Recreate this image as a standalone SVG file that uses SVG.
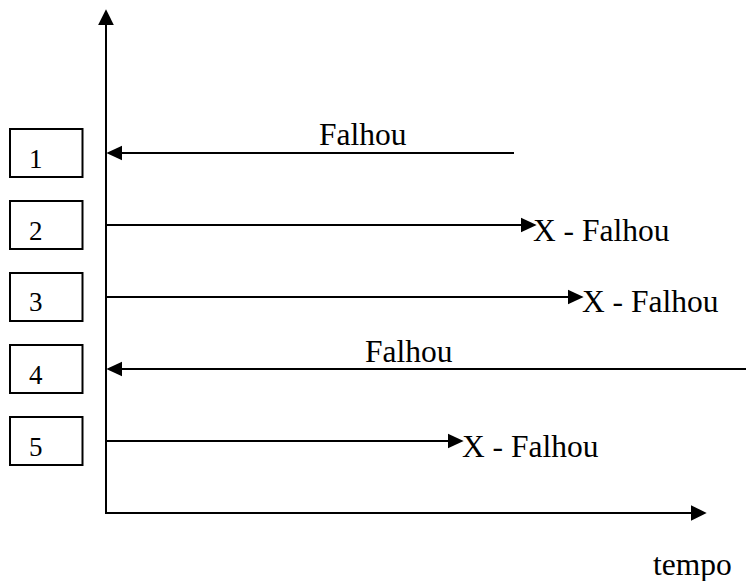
<svg xmlns="http://www.w3.org/2000/svg" width="746" height="581" viewBox="0 0 746 581">
<style>
.box{fill:#fff;stroke:#000;stroke-width:2}
.ln{stroke:#000;stroke-width:2;fill:none}
.num{font-family:"Liberation Serif","Times New Roman",serif;font-size:27px;fill:#000}
.lbl{font-family:"Liberation Serif","Times New Roman",serif;font-size:31.5px;fill:#000}
</style>
<defs>
<marker id="ah" markerUnits="userSpaceOnUse" markerWidth="16" markerHeight="16" viewBox="0 0 15 14" refX="5" refY="7" orient="auto">
<path d="M0,0 L15,7 L0,14 z" fill="#000"/>
</marker>
<marker id="ahA" markerUnits="userSpaceOnUse" markerWidth="16" markerHeight="16" viewBox="0 0 15 15" refX="5" refY="7.5" orient="auto">
<path d="M0,0 L15,7.5 L0,15 z" fill="#000"/>
</marker>
</defs>
<g id="connectors">
<line class="ln" x1="106" y1="513" x2="106" y2="20" marker-end="url(#ahA)"/>
<line class="ln" x1="105" y1="513" x2="696" y2="513" marker-end="url(#ahA)"/>
<line class="ln" x1="514" y1="153" x2="117" y2="153" marker-end="url(#ah)"/>
<line class="ln" x1="106" y1="225" x2="526" y2="225" marker-end="url(#ah)"/>
<line class="ln" x1="106" y1="297" x2="573" y2="297" marker-end="url(#ah)"/>
<line class="ln" x1="746" y1="369" x2="117" y2="369" marker-end="url(#ah)"/>
<line class="ln" x1="106" y1="441" x2="453" y2="441" marker-end="url(#ah)"/>
</g>
<g id="node1"><rect class="box" x="10" y="129" width="72.5" height="48"/><text class="num" x="29" y="167.5">1</text></g>
<g id="node2"><rect class="box" x="10" y="201" width="72.5" height="48"/><text class="num" x="29" y="239.5">2</text></g>
<g id="node3"><rect class="box" x="10" y="273" width="72.5" height="48"/><text class="num" x="29" y="311">3</text></g>
<g id="node4"><rect class="box" x="10" y="345" width="72.5" height="48"/><text class="num" x="29" y="383.5">4</text></g>
<g id="node5"><rect class="box" x="10" y="417" width="72.5" height="48"/><text class="num" x="29" y="455.5">5</text></g>
<g id="labels">
<text class="lbl" x="319" y="145">Falhou</text>
<text class="lbl" x="533" y="240.5">X - Falhou</text>
<text class="lbl" x="582" y="311.5">X - Falhou</text>
<text class="lbl" x="365" y="362">Falhou</text>
<text class="lbl" x="462" y="456.5">X - Falhou</text>
<text class="lbl" x="653" y="575">tempo</text>
</g>
</svg>
